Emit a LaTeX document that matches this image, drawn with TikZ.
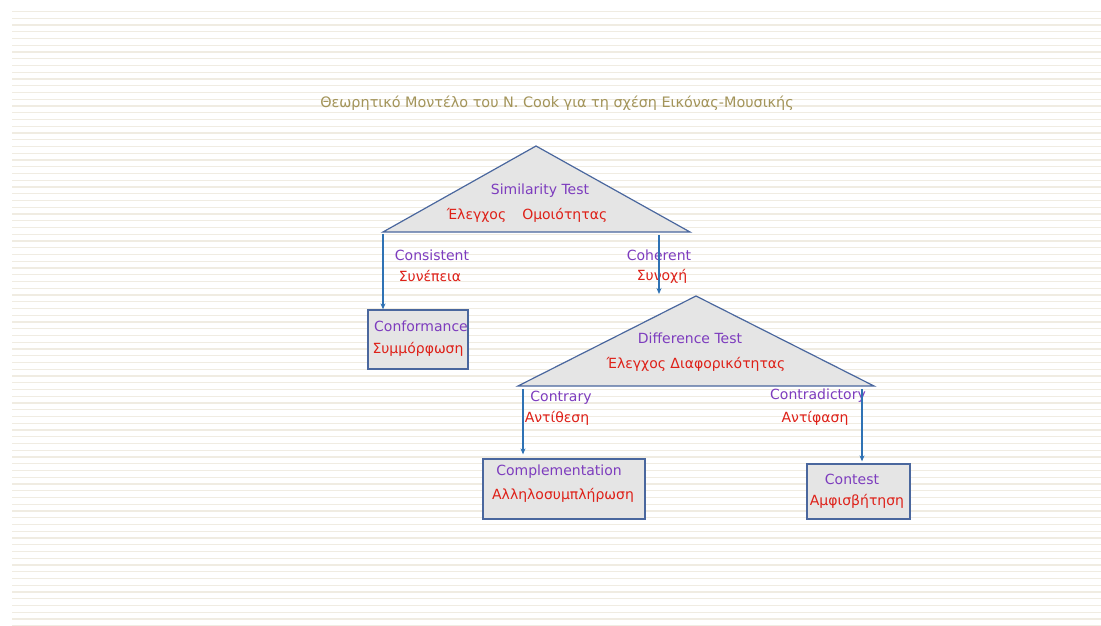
\documentclass[tikz,border=0pt]{standalone}
\usepackage{fontspec}
\usetikzlibrary{arrows.meta}
\setmainfont{DejaVu Sans}
\definecolor{rulebeige}{HTML}{F0ECE2}
\definecolor{titleolive}{HTML}{A39459}
\definecolor{engpurple}{HTML}{7D3CBE}
\definecolor{grred}{HTML}{DE2018}
\definecolor{shapeedge}{HTML}{4A679E}
\definecolor{shapefill}{HTML}{E5E5E5}
\definecolor{arrowblue}{HTML}{2F72B4}
\begin{document}
\begin{tikzpicture}[>={Stealth[length=6pt,width=5pt]},x=1pt,y=-1pt,
  eng/.style={text=engpurple,font=\fontsize{14}{16}\selectfont,inner sep=0pt},
  gr/.style={text=grred,font=\fontsize{14}{16}\selectfont,inner sep=0pt},
  testtri/.style={draw=shapeedge,fill=shapefill,line width=1.2pt,line join=miter},
  outbox/.style={draw=shapeedge,fill=shapefill,line width=1.3pt,inner sep=0pt},
  flow/.style={->,draw=arrowblue,line width=1.2pt}]
\useasboundingbox (0,0) rectangle (1101,626);
\fill[white] (0,0) rectangle (1101,626);
% ruled background
\foreach \i in {0,...,91}
  \draw[rulebeige,line width=1.4pt] (12,11.5+6.75*\i) -- (1101,11.5+6.75*\i);
\node[text=titleolive,font=\fontsize{14.4}{17}\selectfont,inner sep=0pt] (title) at (557,103) {Θεωρητικό Μοντέλο του Ν. Cook για τη σχέση Εικόνας-Μουσικής};
% similarity test
\coordinate (simtop) at (536,146);
\coordinate (simleft) at (383,232);
\coordinate (simright) at (690,232);
\draw[testtri] (simtop) -- (simright) -- (simleft) -- cycle;
\node[eng] (simen) at (540,191) {Similarity Test};
\node[gr] (simgr) at (527,215) {Έλεγχος\hspace{16pt}Ομοιότητας};
\node[eng] (consen) at (432,255) {Consistent};
\node[gr] (consgr) at (430,276) {Συνέπεια};
\node[eng] (cohen) at (659,255) {Coherent};
\node[gr] (cohgr) at (662,276) {Συνοχή};
\coordinate (consout) at (383,234);
\coordinate (cohout) at (659,235);
% conformance
\node[outbox,minimum width=100pt,minimum height=59pt] (confbox) at (418,339.5) {};
\node[eng] (confen) at (421,326) {Conformance};
\node[gr] (confgr) at (418,349) {Συμμόρφωση};
% difference test
\coordinate (diftop) at (696,296);
\coordinate (difleft) at (518,386);
\coordinate (difright) at (874,386);
\draw[testtri] (diftop) -- (difright) -- (difleft) -- cycle;
\node[eng] (difen) at (690,338) {Difference Test};
\node[gr] (difgr) at (696,364) {Έλεγχος Διαφορικότητας};
\node[eng] (contren) at (561,398) {Contrary};
\node[gr] (contrgr) at (557,418) {Αντίθεση};
\node[eng] (contden) at (818,396) {Contradictory};
\node[gr] (contdgr) at (815,418) {Αντίφαση};
\coordinate (controut) at (523,389);
\coordinate (contdout) at (862,389);
% outcomes
\node[outbox,minimum width=162pt,minimum height=60pt] (compbox) at (564,489) {};
\node[eng] (compen) at (559,472) {Complementation};
\node[gr] (compgr) at (563,495) {Αλληλοσυμπλήρωση};
\node[outbox,minimum width=103pt,minimum height=55pt] (contbox) at (858.5,491.5) {};
\node[eng] (conten) at (852,479) {Contest};
\node[gr] (contgr) at (857,501) {Αμφισβήτηση};
% arrows
\draw[flow] (consout) -- (confbox.north -| consout);
\draw[flow] (cohout) -- ([yshift=2pt]diftop -| cohout);
\draw[flow] (controut) -- ([yshift=4pt]compbox.north -| controut);
\draw[flow] (contdout) -- ([yshift=2pt]contbox.north -| contdout);
\end{tikzpicture}
\end{document}
